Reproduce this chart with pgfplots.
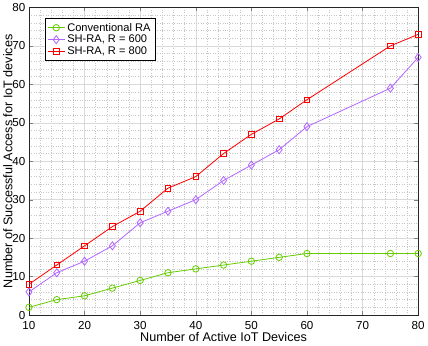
\documentclass[border=0pt]{standalone}
\usepackage{pgfplots}
\pgfplotsset{compat=1.18}
\usepackage{fontspec}
\setmainfont{Liberation Sans}
\definecolor{cgreen}{RGB}{102,204,0}
\definecolor{cpurple}{RGB}{178,102,255}
\definecolor{cred}{RGB}{255,0,0}

\begin{document}
\begin{tikzpicture}
\begin{axis}[
  scale only axis,
  width=386pt, height=305pt,
  xmin=10, xmax=80, ymin=0, ymax=80,
  xtick={10,20,...,80}, ytick={0,10,...,80},
  minor x tick num=4, minor y tick num=4,
  grid=both,
  major grid style={black!15, line width=0.5pt},
  minor grid style={black!22, dotted, line width=0.4pt},
  tick align=inside, tick pos=both,
  major tick length=4pt, minor tick length=0pt,
  axis line style={black!85, line width=0.6pt},
  tick label style={font=\fontsize{11.5}{13}\selectfont},
  xticklabel style={yshift=-3pt},
  label style={font=\fontsize{12.5}{14}\selectfont},
  /pgf/number format/assume math mode=true,
  xlabel={Number of Active IoT Devices},
  ylabel={Number of Successful Access for IoT devices},
  xlabel style={yshift=4pt},
  ylabel style={yshift=-7pt},
  legend style={at={(0.04,0.965)}, anchor=north west, draw=black,
    font=\fontsize{11}{13}\selectfont, row sep=-1.5pt, inner sep=2.5pt,
    legend cell align=left},
  legend image post style={sharp plot},
]
\addplot[cgreen, line width=0.8pt, mark=o, mark size=3.2pt, mark options={solid}] coordinates {
  (10,2) (15,4) (20,5) (25,7) (30,9) (35,11) (40,12) (45,13) (50,14) (55,15) (60,16) (75,16) (80,16)};
\addlegendentry{Conventional RA}
\addplot[cpurple, line width=0.8pt, mark=diamond, mark size=4pt, mark options={solid}] coordinates {
  (10,6) (15,11) (20,14) (25,18) (30,24) (35,27) (40,30) (45,35) (50,39) (55,43) (60,49) (75,59) (80,67)};
\addlegendentry{SH-RA, R = 600}
\addplot[cred, line width=0.8pt, mark=square, mark size=2.8pt, mark options={solid}] coordinates {
  (10,8) (15,13) (20,18) (25,23) (30,27) (35,33) (40,36) (45,42) (50,47) (55,51) (60,56) (75,70) (80,73)};
\addlegendentry{SH-RA, R = 800}
\end{axis}
\end{tikzpicture}
\end{document}
